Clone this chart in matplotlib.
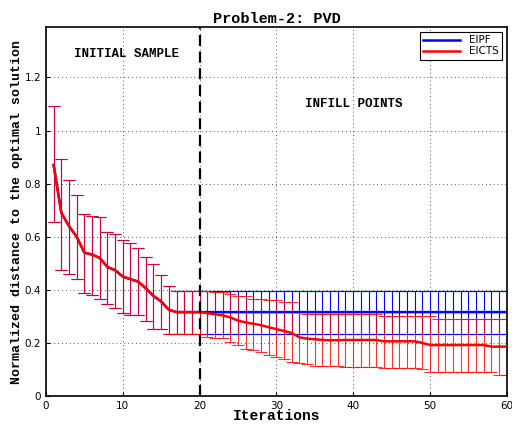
import numpy as np
import matplotlib
matplotlib.use('Agg')
import matplotlib.pyplot as plt

# initial sample (shared by both methods), iterations 1..20
init_mean = [0.87, 0.69, 0.64, 0.60, 0.54, 0.533, 0.52, 0.486, 0.474, 0.45,
             0.44, 0.431, 0.406, 0.377, 0.356, 0.325, 0.316, 0.316, 0.316, 0.316]
init_upper = [1.094, 0.893, 0.815, 0.756, 0.686, 0.679, 0.673, 0.617, 0.611, 0.586,
              0.576, 0.556, 0.523, 0.498, 0.454, 0.416, 0.397, 0.397, 0.397, 0.397]
init_lower = [0.655, 0.475, 0.46, 0.44, 0.388, 0.382, 0.365, 0.346, 0.333, 0.312,
              0.304, 0.304, 0.283, 0.254, 0.254, 0.233, 0.233, 0.233, 0.233, 0.233]

# infill points, iterations 21..60
eipf_mean = [0.316] * 40
eipf_upper = [0.397] * 40
eipf_lower = [0.234] * 40

eicts_mean = [0.312, 0.308, 0.304, 0.296, 0.284, 0.277, 0.272, 0.267, 0.259, 0.252,
              0.245, 0.237, 0.221, 0.216, 0.214, 0.211, 0.21, 0.21, 0.211, 0.211,
              0.211, 0.211, 0.211, 0.206, 0.206, 0.206, 0.206, 0.206, 0.20, 0.192,
              0.192, 0.192, 0.192, 0.192, 0.192, 0.192, 0.192, 0.186, 0.186, 0.186]
eicts_upper = [0.397, 0.391, 0.391, 0.385, 0.375, 0.375, 0.366, 0.366, 0.36, 0.36,
               0.354, 0.354, 0.322, 0.308, 0.308, 0.308, 0.308, 0.308, 0.308, 0.308,
               0.308, 0.308, 0.308, 0.302, 0.302, 0.302, 0.302, 0.302, 0.302, 0.302,
               0.289, 0.289, 0.289, 0.289, 0.289, 0.289, 0.289, 0.289, 0.289, 0.289]
eicts_lower = [0.221, 0.218, 0.218, 0.205, 0.192, 0.176, 0.174, 0.167, 0.156, 0.146,
               0.14, 0.127, 0.123, 0.119, 0.114, 0.114, 0.114, 0.114, 0.111, 0.111,
               0.111, 0.111, 0.111, 0.107, 0.107, 0.107, 0.107, 0.107, 0.102, 0.092,
               0.092, 0.092, 0.092, 0.092, 0.092, 0.092, 0.092, 0.092, 0.079, 0.079]

iterations = np.arange(1, 61)

mono = 'Liberation Mono'

fig = plt.figure(figsize=(5.12, 4.26), dpi=100)
ax = fig.add_axes([0.0898, 0.0704, 0.9, 0.8662])


def draw(mean, upper, lower, color, label, alpha):
    mean = np.array(mean)
    yerr = [mean - np.array(lower), np.array(upper) - mean]
    ax.errorbar(iterations, mean, yerr=yerr, fmt='none', ecolor=color,
                elinewidth=0.8, capsize=4, capthick=0.8, alpha=alpha, zorder=2)
    ax.plot(iterations, mean, color=color, lw=1.8, label=label, zorder=3)


draw(init_mean + eipf_mean, init_upper + eipf_upper, init_lower + eipf_lower,
     'blue', 'EIPF', 1.0)
draw(init_mean + eicts_mean, init_upper + eicts_upper, init_lower + eicts_lower,
     'red', 'EICTS', 0.8)

ax.axvline(20, color='black', ls='--', lw=1.6, dashes=(5, 2.5), zorder=4)

ax.text(3.6, 1.29, 'INITIAL SAMPLE', family=mono, weight='bold', fontsize=9,
        va='center')
ax.text(33.7, 1.10, 'INFILL POINTS', family=mono, weight='bold', fontsize=9,
        va='center')

ax.set_xlim(0, 60)
ax.set_ylim(0, 1.39)
ax.set_xticks(range(0, 61, 10))
ax.set_yticks([0, 0.2, 0.4, 0.6, 0.8, 1.0, 1.2])
ax.set_yticklabels(['0', '0.2', '0.4', '0.6', '0.8', '1', '1.2'])
ax.tick_params(direction='in', labelsize=7.5, length=3)
ax.grid(True, ls=(0, (1, 3)), color='#555555', lw=0.7)
for s in ax.spines.values():
    s.set_linewidth(1.2)

ax.set_title('Problem-2: PVD', family=mono, weight='bold', fontsize=11, pad=3)
ax.set_xlabel('Iterations', family=mono, weight='bold', fontsize=10.5, labelpad=-1)
ax.set_ylabel('Normalized distance to the optimal solution', family=mono,
              weight='bold', fontsize=9.5, labelpad=1)

leg = ax.legend(loc='upper right', fontsize=7.5, fancybox=False, framealpha=1,
                edgecolor='black', handlelength=3.6, borderpad=0.3,
                labelspacing=0.1, borderaxespad=0.5)
leg.get_frame().set_linewidth(0.8)

fig.savefig('out.png', dpi=100)
